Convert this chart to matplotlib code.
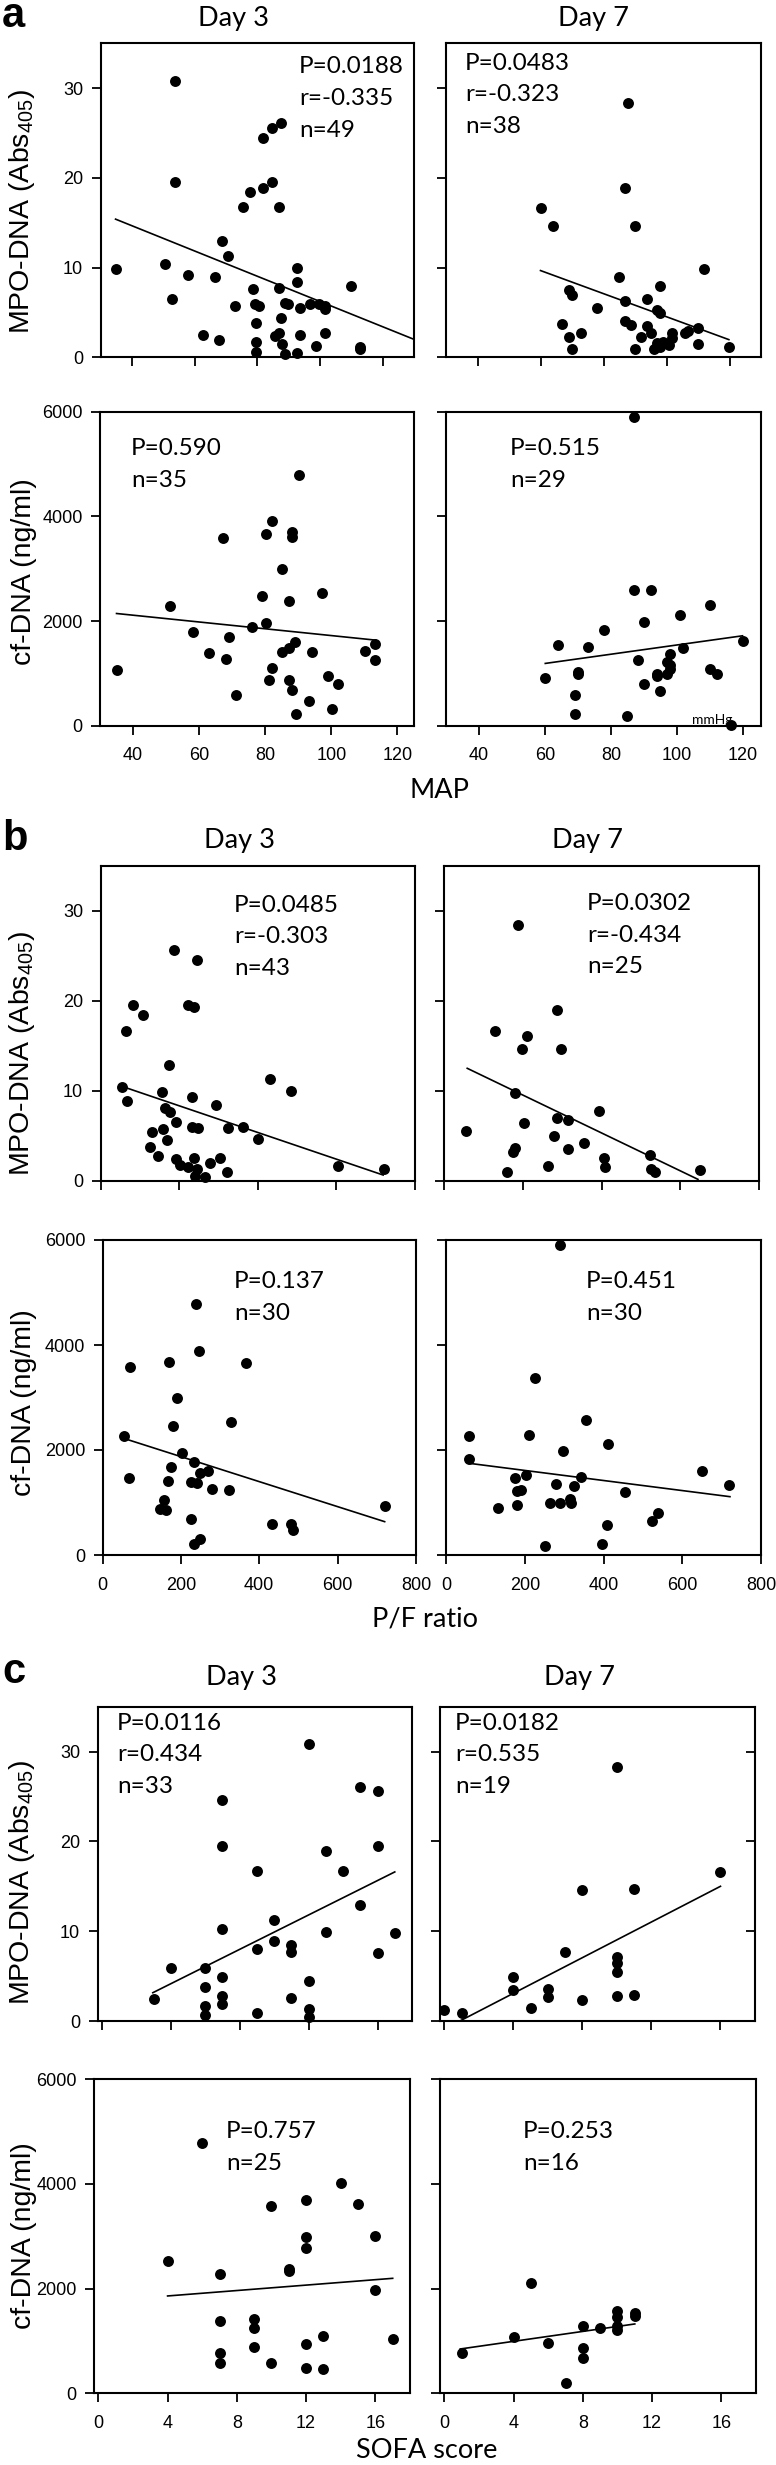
"""NET markers (MPO-DNA, cf-DNA) vs MAP, P/F ratio and SOFA score, day 3 and day 7."""
import matplotlib
matplotlib.use("Agg")
import matplotlib.pyplot as plt

W, H = 776, 2465
plt.rcParams["font.family"] = ["Liberation Sans", "DejaVu Sans"]
plt.rcParams["mathtext.fontset"] = "custom"
plt.rcParams["mathtext.rm"] = "Liberation Sans"
CAL = ["Lato", "DejaVu Sans"]  # stands in for the Calibri-ish labels

# ---- a: MAP ----
MAP_D3_MPO_X = [34.8, 53.7, 53.9, 50.7, 52.8, 57.8, 62.7, 66.6, 67.9, 68.8, 70.7, 72.8, 75.6, 77.6, 78.7, 79.4,
                79.5, 79.7, 79.7, 80.5, 81.7, 81.7, 84.6, 84.6, 87.6, 86.8, 86.8, 86.8, 85.7, 87.7, 87.9, 88.8,
                88.7, 89.8, 92.6, 92.6, 93.7, 93.7, 92.8, 96.7, 98.7, 99.8, 101.7, 101.7, 101.7, 109.8, 112.8, 112.8]
MAP_D3_MPO_Y = [9.8, 30.85, 19.5, 10.4, 6.5, 9.2, 2.5, 8.9, 1.9, 12.95, 11.3, 5.7, 16.7, 18.4, 7.6, 5.9,
                3.8, 1.7, 0.6, 5.7, 24.5, 18.9, 19.5, 25.6, 26.1, 16.7, 7.7, 2.75, 2.4, 4.4, 1.5, 0.4,
                6.0, 5.95, 9.9, 8.4, 5.5, 2.5, 0.45, 5.9, 1.3, 5.9, 5.7, 5.4, 2.75, 8.0, 1.2, 0.9]
MAP_D7_MPO_X = [87.9, 86.9, 60.0, 63.9, 89.9, 111.8, 84.9, 98.0, 69.0, 70.0, 93.9, 86.9, 78.0, 96.9, 98.0, 86.9,
                88.8, 66.9, 93.9, 95.0, 72.9, 69.0, 91.8, 101.9, 101.9, 105.8, 106.8, 109.9, 98.9, 100.8, 109.9,
                96.9, 95.9, 98.0, 70.0, 89.9, 119.8]
MAP_D7_MPO_Y = [28.3, 18.9, 16.6, 14.6, 14.6, 9.8, 8.9, 7.9, 7.5, 6.9, 6.5, 6.3, 5.5, 5.3, 4.9, 4.05,
                3.6, 3.75, 3.5, 2.7, 2.7, 2.3, 2.3, 2.7, 2.2, 2.7, 2.9, 3.3, 1.75, 1.4, 1.5,
                1.6, 0.9, 1.1, 0.9, 0.9, 1.1]
MAP_D3_CF_X = [35.0, 51.1, 58.2, 63.1, 67.2, 68.2, 69.1, 71.2, 76.0, 79.0, 80.1, 80.2, 81.1, 82.0, 82.0, 85.2,
               85.2, 87.1, 87.1, 87.1, 88.2, 88.2, 88.2, 89.1, 89.2, 90.1, 93.1, 94.2, 97.2, 99.1, 100.2, 102.1,
               110.2, 113.2, 113.2]
MAP_D3_CF_Y = [1056, 2284, 1788, 1387, 3589, 1266, 1692, 592, 1877, 2469, 3671, 1953, 865, 3907, 1101, 3003,
               1406, 2386, 1482, 878, 3697, 3601, 687, 1603, 223, 4785, 477, 1406, 2539, 948, 312, 789,
               1425, 1559, 1253]
MAP_D7_CF_X = [87.0, 87.0, 92.0, 110.1, 101.0, 90.0, 77.9, 64.0, 73.1, 102.0, 119.9, 98.0, 88.1, 97.1, 98.0,
               98.0, 110.1, 112.1, 70.0, 70.0, 59.9, 93.9, 94.1, 97.1, 90.0, 95.0, 69.1, 69.1, 84.9, 116.5]
MAP_D7_CF_Y = [5904, 2590, 2590, 2310, 2119, 1991, 1832, 1533, 1495, 1482, 1610, 1374, 1260, 1215, 1152,
               1082, 1082, 993, 1024, 986, 916, 986, 942, 986, 795, 662, 579, 216, 191, 19]

# ---- b: P/F ratio ----
PF_D3_MPO_X = [54, 67, 66, 82, 109, 173, 156, 165, 178, 192, 159, 130, 168, 127, 146, 192, 203, 187, 246, 223,
               238, 232, 233, 249, 237, 223, 246, 241, 266, 279, 293, 305, 322, 324, 363, 401, 432, 485, 604, 721]
PF_D3_MPO_Y = [10.37, 8.9, 16.7, 19.5, 18.4, 12.9, 9.85, 8.1, 7.6, 6.5, 5.7, 5.4, 4.5, 3.8, 2.8, 2.4, 1.7,
               25.7, 24.5, 19.5, 19.3, 9.26, 6.0, 5.85, 2.55, 1.5, 1.3, 0.5, 0.37, 2.0, 8.4, 2.55, 0.96, 5.85,
               6.0, 4.6, 11.3, 9.96, 1.63, 1.33]
PF_D7_MPO_X = [189, 287, 130, 211, 199, 297, 180, 394, 287, 316, 203, 57, 279, 355, 314, 180, 176, 406, 409,
               263, 161, 522, 526, 536, 649]
PF_D7_MPO_Y = [28.4, 19.0, 16.6, 16.1, 14.7, 14.6, 9.8, 7.7, 7.0, 6.7, 6.4, 5.5, 4.96, 4.2, 3.5, 3.6, 3.2,
               2.5, 1.5, 1.6, 0.96, 2.85, 1.33, 1.0, 1.19]
PF_D3_CF_X = [54, 69, 67, 169, 189, 179, 203, 175, 167, 158, 148, 163, 238, 247, 233, 249, 269, 226, 240, 280,
              323, 327, 365, 227, 233, 249, 433, 481, 486, 722]
PF_D3_CF_Y = [2273, 3581, 1473, 3683, 2997, 2463, 1937, 1683, 1416, 1048, 870, 857, 4787, 3892, 1778, 1556,
              1594, 1390, 1371, 1251, 1238, 2533, 3663, 679, 210, 305, 584, 584, 470, 940]
PF_D7_CF_X = [288, 226, 58, 211, 356, 297, 411, 58, 201, 175, 343, 279, 325, 180, 189, 453, 649, 719, 314, 317,
              263, 288, 180, 131, 537, 524, 408, 396, 250]
PF_D7_CF_Y = [5898, 3371, 2273, 2292, 2578, 1981, 2114, 1822, 1524, 1460, 1486, 1359, 1314, 1225, 1238, 1194,
              1606, 1333, 1073, 990, 984, 984, 959, 902, 794, 648, 565, 203, 171]

# ---- c: SOFA score ----
SOFA_D3_MPO_X = [3, 4, 6, 6, 6, 6, 7, 7, 7, 7, 7, 7, 9, 9, 9, 10, 10, 11, 11, 11, 12, 12, 12, 12, 13, 13, 14,
                 15, 15, 16, 16, 16, 17]
SOFA_D3_MPO_Y = [2.4, 5.86, 5.86, 3.82, 1.63, 0.63, 24.6, 19.5, 10.3, 4.93, 2.78, 1.93, 16.65, 8.0, 0.93,
                 11.3, 8.9, 8.45, 7.64, 2.52, 30.8, 4.45, 1.33, 0.4, 18.9, 9.9, 16.7, 26.07, 12.9, 25.6, 19.5,
                 7.56, 9.8]
SOFA_D7_MPO_X = [0, 1, 4, 4, 5, 6, 6, 7, 8, 8, 10, 10, 10, 10, 10, 11, 11, 16]
SOFA_D7_MPO_Y = [1.22, 0.93, 4.9, 3.45, 1.45, 3.56, 2.7, 7.64, 14.6, 2.37, 28.3, 7.08, 6.5, 5.5, 2.78, 14.65,
                 2.85, 16.6]
SOFA_D3_CF_X = [4, 6, 7, 7, 7, 7, 9, 9, 9, 10, 10, 11, 11, 12, 12, 12, 12, 12, 13, 13, 14, 15, 16, 16, 17]
SOFA_D3_CF_Y = [2535, 4790, 2274, 1389, 777, 573, 1414, 1242, 892, 3580, 586, 2369, 2344, 3688, 2994, 2777,
                943, 490, 1089, 465, 4013, 3611, 3006, 1975, 1038]
SOFA_D7_CF_X = [1, 4, 5, 6, 7, 8, 8, 8, 9, 10, 10, 10, 10, 11, 11]
SOFA_D7_CF_Y = [777, 1070, 2115, 955, 204, 1293, 873, 682, 1242, 1580, 1465, 1293, 1210, 1529, 1484]

# regression lines, end points: ([x0, x1], [y0, y1])
FITS = {
    "map_d3_mpo": ([34.8, 130.0], [15.4, 2.0]), "map_d7_mpo": ([60.0, 119.8], [9.67, 1.97]),
    "map_d3_cf": ([35.0, 113.4], [2144, 1635]), "map_d7_cf": ([60.1, 119.9], [1190, 1718]),
    "pf_d3_mpo": ([54, 719], [10.5, 0.63]), "pf_d7_mpo": ([59, 645], [12.5, 0.15]),
    "pf_d3_cf": ([54, 720], [2222, 635]), "pf_d7_cf": ([58, 721], [1746, 1111]),
    "sofa_d3_mpo": ([2.96, 17.0], [3.15, 16.6]), "sofa_d7_mpo": ([0.9, 16.0], [0.0, 15.0]),
    "sofa_d3_cf": ([4.0, 17.0], [1860, 2197]), "sofa_d7_cf": ([0.92, 11.0], [847, 1325]),
}

STATS = {
    "map_d3_mpo": ["P=0.0188", "r=-0.335", "n=49"], "map_d7_mpo": ["P=0.0483", "r=-0.323", "n=38"],
    "map_d3_cf": ["P=0.590", "n=35"], "map_d7_cf": ["P=0.515", "n=29"],
    "pf_d3_mpo": ["P=0.0485", "r=-0.303", "n=43"], "pf_d7_mpo": ["P=0.0302", "r=-0.434", "n=25"],
    "pf_d3_cf": ["P=0.137", "n=30"], "pf_d7_cf": ["P=0.451", "n=30"],
    "sofa_d3_mpo": ["P=0.0116", "r=0.434", "n=33"], "sofa_d7_mpo": ["P=0.0182", "r=0.535", "n=19"],
    "sofa_d3_cf": ["P=0.757", "n=25"], "sofa_d7_cf": ["P=0.253", "n=16"],
}

MPO_LABEL = r"MPO-DNA (Abs$_{\mathrm{405}}$)"
CF_LABEL = "cf-DNA (ng/ml)"

fig = plt.figure(figsize=(W / 100, H / 100), dpi=100)


def panel(px, xlim, xticks, ylim, yticks, x, y, key, txy, xlab=False, ylab=False, rticks=False):
    l, r, t, b = px
    ax = fig.add_axes([l / W, 1 - b / H, (r - l) / W, (b - t) / H])
    ax.scatter(x, y, s=62, color="black", zorder=3, clip_on=False, linewidths=0)
    fx, fy = FITS[key]
    ax.plot(fx, fy, color="black", lw=1.2, zorder=2)
    ax.set_xlim(*xlim); ax.set_ylim(*ylim)
    ax.set_xticks(xticks); ax.set_yticks(yticks)
    for s in ax.spines.values():
        s.set_linewidth(1.5)
    ax.tick_params(direction="out", length=6.5, width=1.3, labelsize=13)
    ax.tick_params(axis="x", pad=9)
    ax.tick_params(axis="y", pad=6)
    if not xlab:
        ax.set_xticklabels([])
    if not ylab:
        ax.set_yticklabels([])
    if rticks:
        ax.tick_params(axis="y", right=True, which="both")
        for tl in ax.yaxis.get_ticklines()[1::2]:
            tl.set_marker(matplotlib.lines.TICKLEFT)
    tx, ty, step = txy
    for i, s in enumerate(STATS[key]):
        ax.text(tx, ty - i * step, s, transform=ax.transAxes, fontsize=17.5, family=CAL, va="baseline")
    return ax


MPO_Y = ((0, 35), [0, 10, 20, 30])
CF_Y = ((0, 6000), [0, 2000, 4000, 6000])
MAP_T = [40, 60, 80, 100, 120]
PF_T = [0, 200, 400, 600, 800]
SOFA_T = [0, 4, 8, 12, 16]

# a
panel((100.5, 414, 43.3, 357.3), (30, 130), MAP_T, *MPO_Y, MAP_D3_MPO_X, MAP_D3_MPO_Y, "map_d3_mpo",
      (0.633, 0.905, 0.102), ylab=True)
panel((446, 761, 43.3, 357.3), (30, 130), MAP_T, *MPO_Y, MAP_D7_MPO_X, MAP_D7_MPO_Y, "map_d7_mpo",
      (0.06, 0.915, 0.1))
panel((100, 414, 411.7, 725.7), (30, 125), MAP_T, *CF_Y, MAP_D3_CF_X, MAP_D3_CF_Y, "map_d3_cf",
      (0.099, 0.862, 0.102), xlab=True, ylab=True)
ax = panel((446, 761, 411.7, 725.7), (30, 125.5), MAP_T, *CF_Y, MAP_D7_CF_X, MAP_D7_CF_Y, "map_d7_cf",
           (0.203, 0.862, 0.102), xlab=True)
ax.text(0.845, 0.004, "mmHg", transform=ax.transAxes, fontsize=10, family=CAL, ha="center", va="baseline")

# b
panel((100.5, 415, 866, 1180.7), (0, 800), PF_T, *MPO_Y, PF_D3_MPO_X, PF_D3_MPO_Y, "pf_d3_mpo",
      (0.425, 0.855, 0.1), ylab=True)
panel((444, 759, 866, 1180.7), (0, 800), PF_T, *MPO_Y, PF_D7_MPO_X, PF_D7_MPO_Y, "pf_d7_mpo",
      (0.454, 0.86, 0.1))
panel((102.5, 416, 1240, 1555), (0, 800), PF_T, *CF_Y, PF_D3_CF_X, PF_D3_CF_Y, "pf_d3_cf",
      (0.42, 0.848, 0.102), xlab=True, ylab=True)
panel((446.5, 761, 1240, 1555), (0, 800), PF_T, *CF_Y, PF_D7_CF_X, PF_D7_CF_Y, "pf_d7_cf",
      (0.443, 0.848, 0.102), xlab=True)

# c
panel((97.5, 412, 1706.7, 2021), (-0.25, 18), SOFA_T, *MPO_Y, SOFA_D3_MPO_X, SOFA_D3_MPO_Y, "sofa_d3_mpo",
      (0.062, 0.926, 0.1), ylab=True)
panel((440, 755, 1706.7, 2021), (-0.25, 18), SOFA_T, *MPO_Y, SOFA_D7_MPO_X, SOFA_D7_MPO_Y, "sofa_d7_mpo",
      (0.048, 0.926, 0.1), rticks=True)
panel((94, 410, 2079.3, 2393.3), (-0.25, 18), SOFA_T, *CF_Y, SOFA_D3_CF_X, SOFA_D3_CF_Y, "sofa_d3_cf",
      (0.418, 0.813, 0.102), xlab=True, ylab=True)
panel((440, 756, 2079.3, 2393.3), (-0.25, 18), SOFA_T, *CF_Y, SOFA_D7_CF_X, SOFA_D7_CF_Y, "sofa_d7_cf",
      (0.263, 0.813, 0.102), xlab=True)


def ftext(x, y, s, **kw):
    fig.text(x / W, 1 - y / H, s, **kw)


for letter, base in [("a", 27), ("b", 850), ("c", 1683)]:
    ftext(2, base, letter, fontsize=30, weight="bold", va="baseline")
for (x3, x7), base in [((233.5, 594), 26), ((240, 587), 848), ((242, 579), 1685)]:
    ftext(x3, base, "Day 3", fontsize=19.5, family=CAL, ha="center", va="baseline")
    ftext(x7, base, "Day 7", fontsize=19.5, family=CAL, ha="center", va="baseline")
for yc in (211.5, 1053, 1882):
    ftext(22, yc, MPO_LABEL, fontsize=20.5, rotation=90, ha="center", va="center")
for yc in (572, 1403, 2236):
    ftext(24, yc, CF_LABEL, fontsize=20.5, rotation=90, ha="center", va="center")
for s, xc, base in [("MAP", 439.5, 798), ("P/F ratio", 425, 1627), ("SOFA score", 427, 2458)]:
    ftext(xc, base, s, fontsize=19.5, family=CAL, ha="center", va="baseline")

fig.savefig("out.png", dpi=100)
plt.close(fig)
